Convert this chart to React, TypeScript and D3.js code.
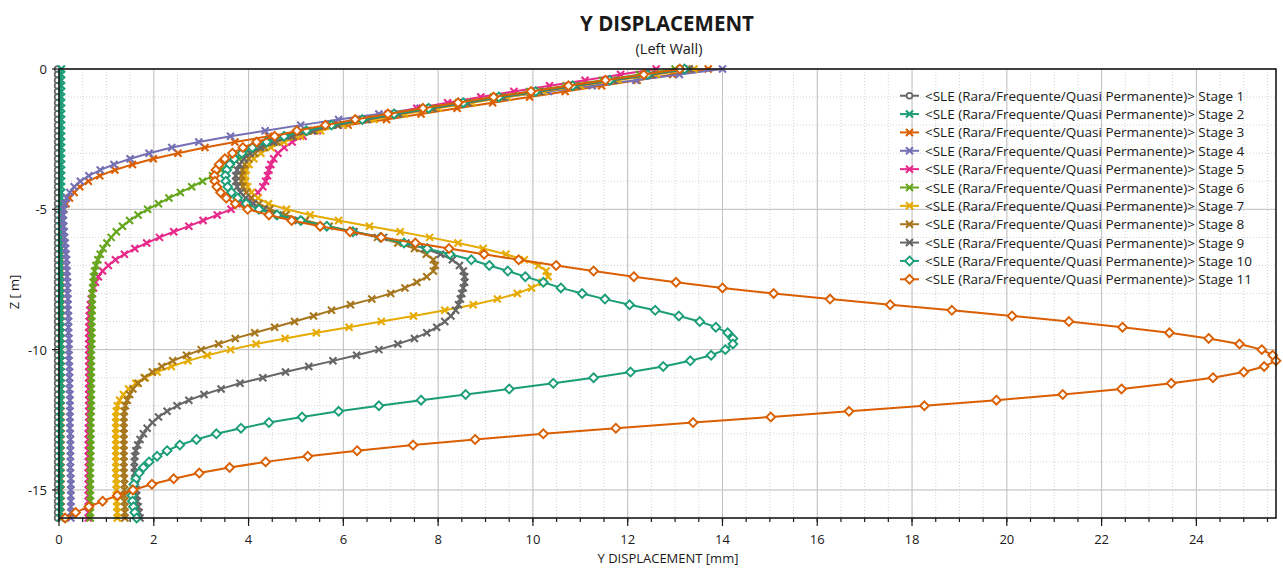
import React from 'react';
import * as d3 from 'd3';

// ---------- DATA ----------
const DEPTH = [
  0, -0.2, -0.4, -0.6, -0.8, -1, -1.2, -1.4, -1.6, -1.8,
  -2, -2.2, -2.4, -2.6, -2.8, -3, -3.2, -3.4, -3.6, -3.8,
  -4, -4.2, -4.4, -4.6, -4.8, -5, -5.2, -5.4, -5.6, -5.8,
  -6, -6.2, -6.4, -6.6, -6.8, -7, -7.2, -7.4, -7.6, -7.8,
  -8, -8.2, -8.4, -8.6, -8.8, -9, -9.2, -9.4, -9.6, -9.8,
  -10, -10.2, -10.4, -10.6, -10.8, -11, -11.2, -11.4, -11.6, -11.8,
  -12, -12.2, -12.4, -12.6, -12.8, -13, -13.2, -13.4, -13.6, -13.8,
  -14, -14.2, -14.4, -14.6, -14.8, -15, -15.2, -15.4, -15.6, -15.8,
  -16,
];

const STAGE_1 = [
  -0.03, -0.03, -0.03, -0.03, -0.03, -0.03, -0.03, -0.03, -0.03, -0.03,
  -0.03, -0.03, -0.03, -0.03, -0.03, -0.03, -0.03, -0.03, -0.03, -0.03,
  -0.03, -0.03, -0.03, -0.03, -0.03, -0.03, -0.03, -0.03, -0.03, -0.03,
  -0.03, -0.03, -0.03, -0.03, -0.03, -0.03, -0.03, -0.03, -0.03, -0.03,
  -0.03, -0.03, -0.03, -0.03, -0.03, -0.03, -0.03, -0.03, -0.03, -0.03,
  -0.03, -0.03, -0.03, -0.03, -0.03, -0.03, -0.03, -0.03, -0.03, -0.03,
  -0.03, -0.03, -0.03, -0.03, -0.03, -0.03, -0.03, -0.03, -0.03, -0.03,
  -0.03, -0.03, -0.03, -0.03, -0.03, -0.03, -0.03, -0.03, -0.03, -0.03,
  -0.03,
];

const STAGE_2 = [
  0.05, 0.05, 0.05, 0.05, 0.05, 0.05, 0.05, 0.05, 0.05, 0.05,
  0.05, 0.05, 0.05, 0.05, 0.05, 0.05, 0.05, 0.05, 0.05, 0.05,
  0.05, 0.05, 0.05, 0.05, 0.05, 0.04, 0.04, 0.04, 0.04, 0.04,
  0.04, 0.04, 0.04, 0.04, 0.04, 0.04, 0.04, 0.04, 0.04, 0.04,
  0.04, 0.04, 0.04, 0.04, 0.04, 0.04, 0.04, 0.04, 0.04, 0.04,
  0.04, 0.04, 0.04, 0.04, 0.04, 0.04, 0.04, 0.04, 0.04, 0.04,
  0.03, 0.03, 0.03, 0.03, 0.03, 0.03, 0.03, 0.03, 0.03, 0.03,
  0.03, 0.03, 0.03, 0.03, 0.03, 0.03, 0.03, 0.03, 0.03, 0.03,
  0.03,
];

const STAGE_3 = [
  13.7, 12.95, 12.2, 11.45, 10.68, 9.93, 9.15, 8.4, 7.64, 6.91,
  6.1, 5.2, 4.42, 3.71, 3.08, 2.51, 1.99, 1.55, 1.18, 0.86,
  0.62, 0.44, 0.32, 0.22, 0.15, 0.1, 0.08, 0.07, 0.06, 0.06,
  0.05, 0.05, 0.05, 0.05, 0.05, 0.05, 0.05, 0.05, 0.05, 0.05,
  0.05, 0.05, 0.05, 0.05, 0.05, 0.04, 0.04, 0.04, 0.04, 0.04,
  0.04, 0.04, 0.04, 0.04, 0.04, 0.04, 0.04, 0.04, 0.04, 0.04,
  0.04, 0.04, 0.04, 0.04, 0.04, 0.04, 0.04, 0.04, 0.04, 0.04,
  0.04, 0.04, 0.04, 0.04, 0.04, 0.04, 0.04, 0.04, 0.04, 0.04,
  0.04,
];

const STAGE_4 = [
  14.0, 13.09, 12.17, 11.25, 10.33, 9.42, 8.52, 7.62, 6.75, 5.9,
  5.1, 4.35, 3.62, 2.95, 2.38, 1.9, 1.5, 1.16, 0.87, 0.63,
  0.45, 0.32, 0.23, 0.16, 0.12, 0.1, 0.09, 0.09, 0.1, 0.11,
  0.12, 0.13, 0.14, 0.15, 0.16, 0.16, 0.17, 0.17, 0.18, 0.18,
  0.18, 0.19, 0.19, 0.19, 0.2, 0.2, 0.2, 0.2, 0.21, 0.21,
  0.21, 0.21, 0.21, 0.22, 0.22, 0.22, 0.22, 0.22, 0.23, 0.23,
  0.23, 0.23, 0.23, 0.23, 0.23, 0.24, 0.24, 0.24, 0.24, 0.24,
  0.24, 0.24, 0.24, 0.25, 0.25, 0.25, 0.25, 0.25, 0.25, 0.25,
  0.25,
];

const STAGE_5 = [
  12.6, 11.85, 11.1, 10.35, 9.6, 8.9, 8.2, 7.55, 6.95, 6.4,
  5.9, 5.45, 5.15, 4.92, 4.75, 4.62, 4.53, 4.47, 4.43, 4.4,
  4.36, 4.3, 4.2, 4.05, 3.87, 3.63, 3.34, 3.04, 2.74, 2.42,
  2.12, 1.85, 1.6, 1.38, 1.19, 1.04, 0.92, 0.83, 0.77, 0.73,
  0.7, 0.68, 0.66, 0.65, 0.64, 0.64, 0.63, 0.63, 0.63, 0.63,
  0.63, 0.63, 0.63, 0.63, 0.63, 0.63, 0.63, 0.63, 0.63, 0.63,
  0.63, 0.63, 0.63, 0.63, 0.62, 0.62, 0.62, 0.62, 0.62, 0.62,
  0.62, 0.62, 0.62, 0.62, 0.62, 0.62, 0.62, 0.62, 0.62, 0.62,
  0.62,
];

const STAGE_6 = [
  13.0, 12.25, 11.47, 10.7, 9.93, 9.17, 8.43, 7.7, 7.0, 6.35,
  5.75, 5.25, 4.85, 4.52, 4.25, 4.02, 3.8, 3.6, 3.42, 3.24,
  3.03, 2.8, 2.56, 2.32, 2.1, 1.87, 1.67, 1.49, 1.34, 1.21,
  1.1, 1.01, 0.93, 0.87, 0.82, 0.78, 0.75, 0.73, 0.72, 0.71,
  0.7, 0.7, 0.7, 0.7, 0.69, 0.69, 0.69, 0.69, 0.69, 0.69,
  0.68, 0.68, 0.68, 0.68, 0.68, 0.68, 0.68, 0.68, 0.68, 0.68,
  0.68, 0.68, 0.67, 0.67, 0.67, 0.67, 0.67, 0.67, 0.67, 0.67,
  0.66, 0.66, 0.66, 0.66, 0.66, 0.66, 0.66, 0.66, 0.66, 0.66,
  0.66,
];

const STAGE_7 = [
  13.4, 12.6, 11.8, 11.0, 10.23, 9.46, 8.72, 8.0, 7.3, 6.65,
  6.0, 5.52, 5.1, 4.75, 4.47, 4.26, 4.11, 4.01, 3.95, 3.93,
  3.94, 3.98, 4.06, 4.2, 4.42, 4.8, 5.3, 5.9, 6.55, 7.2,
  7.82, 8.42, 8.95, 9.43, 9.82, 10.12, 10.28, 10.32, 10.2, 9.97,
  9.67, 9.25, 8.74, 8.14, 7.48, 6.8, 6.12, 5.43, 4.77, 4.16,
  3.62, 3.13, 2.72, 2.37, 2.07, 1.82, 1.62, 1.47, 1.36, 1.28,
  1.23, 1.21, 1.2, 1.2, 1.2, 1.2, 1.2, 1.2, 1.2, 1.2,
  1.2, 1.2, 1.2, 1.21, 1.21, 1.21, 1.22, 1.22, 1.22, 1.23,
  1.23,
];

const STAGE_8 = [
  13.25, 12.47, 11.67, 10.88, 10.1, 9.32, 8.58, 7.85, 7.14, 6.48,
  5.88, 5.38, 4.95, 4.6, 4.33, 4.13, 4.0, 3.92, 3.87, 3.85,
  3.85, 3.88, 3.95, 4.06, 4.22, 4.45, 4.78, 5.2, 5.7, 6.22,
  6.72, 7.15, 7.5, 7.75, 7.9, 7.94, 7.9, 7.76, 7.55, 7.3,
  7.0, 6.6, 6.15, 5.75, 5.37, 4.97, 4.55, 4.13, 3.72, 3.37,
  3.0, 2.69, 2.4, 2.17, 1.97, 1.8, 1.67, 1.56, 1.49, 1.44,
  1.4, 1.38, 1.37, 1.37, 1.37, 1.37, 1.37, 1.37, 1.37, 1.37,
  1.37, 1.37, 1.37, 1.38, 1.38, 1.38, 1.38, 1.38, 1.39, 1.39,
  1.39,
];

const STAGE_9 = [
  13.3, 12.5, 11.7, 10.92, 10.14, 9.36, 8.62, 7.89, 7.17, 6.5,
  5.88, 5.35, 4.9, 4.53, 4.25, 4.04, 3.9, 3.81, 3.76, 3.73,
  3.73, 3.76, 3.83, 3.94, 4.1, 4.32, 4.62, 5.05, 5.6, 6.22,
  6.85, 7.32, 7.72, 8.05, 8.3, 8.45, 8.53, 8.56, 8.56, 8.53,
  8.5, 8.47, 8.43, 8.37, 8.27, 8.14, 7.97, 7.76, 7.5, 7.15,
  6.75, 6.28, 5.78, 5.27, 4.78, 4.3, 3.82, 3.42, 3.06, 2.74,
  2.49, 2.28, 2.1, 1.97, 1.86, 1.78, 1.71, 1.66, 1.62, 1.6,
  1.59, 1.59, 1.6, 1.61, 1.62, 1.63, 1.64, 1.65, 1.67, 1.69,
  1.71,
];

const STAGE_10 = [
  13.2, 12.42, 11.62, 10.84, 10.06, 9.28, 8.53, 7.8, 7.07, 6.4,
  5.75, 5.22, 4.75, 4.38, 4.08, 3.86, 3.7, 3.6, 3.54, 3.51,
  3.52, 3.56, 3.64, 3.77, 3.95, 4.22, 4.6, 5.1, 5.65, 6.2,
  6.78, 7.28, 7.77, 8.25, 8.7, 9.08, 9.47, 9.84, 10.22, 10.59,
  11.04, 11.52, 12.04, 12.58, 13.08, 13.52, 13.86, 14.11, 14.22, 14.22,
  14.06, 13.76, 13.32, 12.75, 12.06, 11.28, 10.43, 9.5, 8.58, 7.64,
  6.75, 5.9, 5.13, 4.43, 3.84, 3.32, 2.9, 2.55, 2.28, 2.07,
  1.9, 1.78, 1.69, 1.62, 1.58, 1.55, 1.54, 1.55, 1.57, 1.6,
  1.64,
];

const STAGE_11 = [
  13.1, 12.34, 11.53, 10.75, 9.96, 9.17, 8.42, 7.68, 6.94, 6.25,
  5.62, 5.02, 4.55, 4.17, 3.88, 3.66, 3.5, 3.38, 3.31, 3.28,
  3.29, 3.33, 3.41, 3.53, 3.72, 3.98, 4.43, 4.91, 5.51, 6.14,
  6.8, 7.52, 8.23, 8.97, 9.7, 10.49, 11.28, 12.13, 13.02, 14.0,
  15.08, 16.27, 17.54, 18.84, 20.11, 21.31, 22.44, 23.43, 24.26, 24.91,
  25.38, 25.61, 25.68, 25.43, 25.0, 24.35, 23.47, 22.42, 21.18, 19.78,
  18.26, 16.67, 15.02, 13.38, 11.75, 10.22, 8.78, 7.47, 6.29, 5.25,
  4.36, 3.6, 2.96, 2.42, 1.96, 1.56, 1.23, 0.92, 0.63, 0.35,
  0.13,
];

const STAGE_NAMES = [
  '<SLE (Rara/Frequente/Quasi Permanente)> Stage 1',
  '<SLE (Rara/Frequente/Quasi Permanente)> Stage 2',
  '<SLE (Rara/Frequente/Quasi Permanente)> Stage 3',
  '<SLE (Rara/Frequente/Quasi Permanente)> Stage 4',
  '<SLE (Rara/Frequente/Quasi Permanente)> Stage 5',
  '<SLE (Rara/Frequente/Quasi Permanente)> Stage 6',
  '<SLE (Rara/Frequente/Quasi Permanente)> Stage 7',
  '<SLE (Rara/Frequente/Quasi Permanente)> Stage 8',
  '<SLE (Rara/Frequente/Quasi Permanente)> Stage 9',
  '<SLE (Rara/Frequente/Quasi Permanente)> Stage 10',
  '<SLE (Rara/Frequente/Quasi Permanente)> Stage 11',
];

const STAGE_VALUES = [
  STAGE_1, STAGE_2, STAGE_3, STAGE_4, STAGE_5, STAGE_6,
  STAGE_7, STAGE_8, STAGE_9, STAGE_10, STAGE_11,
];

const STAGE_COLORS = [
  '#666666', '#1b9e77', '#d95f02', '#7570b3', '#e7298a', '#66a61e',
  '#e6ab02', '#a6761d', '#666666', '#1b9e77', '#d95f02',
];

const STAGE_MARKERS = [
  'circle', 'cross', 'cross', 'cross', 'cross', 'cross',
  'cross', 'cross', 'cross', 'diamond', 'diamond',
];

// painting order (stage 2 painted above stage 3, as seen in the picture)
const DRAW_ORDER = [0, 2, 1, 3, 4, 5, 6, 7, 8, 9, 10];

const X_TICKS = [0, 2, 4, 6, 8, 10, 12, 14, 16, 18, 20, 22, 24];
const Y_TICKS = [0, -5, -10, -15];

const TITLE = 'Y DISPLACEMENT';
const SUBTITLE = '(Left Wall)';
const X_LABEL = 'Y DISPLACEMENT [mm]';
const Y_LABEL = 'Z [ m]';

// ---------- LAYOUT ----------
const W = 1283;
const H = 568;
const PLOT = { left: 59, right: 1276, top: 69, bottom: 518 };
const FONT = "'Open Sans', 'Noto Sans', sans-serif";

function Marker({ type, color, x, y }: { type: string; color: string; x: number; y: number }) {
  if (type === 'circle') {
    return <circle cx={x} cy={y} r={2.9} fill="#fff" stroke={color} strokeWidth={1.7} />;
  }
  if (type === 'diamond') {
    const s = 4.4;
    return (
      <path
        d={`M${x},${y - s}L${x + s},${y}L${x},${y + s}L${x - s},${y}Z`}
        fill="#fff"
        stroke={color}
        strokeWidth={1.9}
      />
    );
  }
  const s = 3.5;
  return (
    <path
      d={`M${x - s},${y - s}L${x + s},${y + s}M${x - s},${y + s}L${x + s},${y - s}`}
      stroke={color}
      strokeWidth={2.1}
      fill="none"
    />
  );
}

export default function App() {
  const xMax = d3.max(STAGE_VALUES, (s) => d3.max(s)) as number;
  const x = d3.scaleLinear().domain([0, xMax]).range([PLOT.left, PLOT.right]);
  const y = d3.scaleLinear().domain([-16, 0]).range([PLOT.bottom, PLOT.top]);

  const minorX = d3.range(0, xMax + 1e-9, 0.5);
  const minorY = d3.range(-16, 0.0001, 1);

  const line = d3
    .line<[number, number]>()
    .x((d) => x(d[0]))
    .y((d) => y(d[1]));

  const series = STAGE_VALUES.map((vals, i) => ({
    name: STAGE_NAMES[i],
    color: STAGE_COLORS[i],
    marker: STAGE_MARKERS[i],
    pts: vals.map((v, j) => [v, DEPTH[j]] as [number, number]),
  }));

  const legendX = 900;
  const legendY = 95.7;
  const legendStep = 18.36;

  return (
    <svg
      width={W}
      height={H}
      style={{ position: 'absolute', left: 0, top: 0, background: '#fff' }}
      fontFamily={FONT}
    >
      <rect x={0} y={0} width={W} height={H} fill="#fff" />
      {/* minor grid */}
      <g stroke="#d4d4d4" strokeWidth={1} strokeDasharray="1,2">
        {minorX.map((v) => (
          <line key={'mx' + v} x1={x(v)} x2={x(v)} y1={PLOT.top} y2={PLOT.bottom} />
        ))}
        {minorY.map((v) => (
          <line key={'my' + v} x1={PLOT.left} x2={PLOT.right} y1={y(v)} y2={y(v)} />
        ))}
      </g>
      {/* major grid */}
      <g stroke="#c0c0c0" strokeWidth={1}>
        {X_TICKS.map((v) => (
          <line key={'gx' + v} x1={x(v)} x2={x(v)} y1={PLOT.top} y2={PLOT.bottom} />
        ))}
        {Y_TICKS.map((v) => (
          <line key={'gy' + v} x1={PLOT.left} x2={PLOT.right} y1={y(v)} y2={y(v)} />
        ))}
      </g>

      {/* series */}
      {DRAW_ORDER.map((k) => {
        const s = series[k];
        return (
          <g key={s.name}>
            <path d={line(s.pts) || ''} fill="none" stroke={s.color} strokeWidth={2} strokeLinejoin="round" />
            {s.pts.map((p, j) => (
              <Marker key={j} type={s.marker} color={s.color} x={x(p[0])} y={y(p[1])} />
            ))}
          </g>
        );
      })}

      {/* frame */}
      <rect
        x={PLOT.left}
        y={PLOT.top}
        width={PLOT.right - PLOT.left}
        height={PLOT.bottom - PLOT.top}
        fill="none"
        stroke="#1a1a1a"
        strokeWidth={1.6}
      />

      {/* axis ticks */}
      <g stroke="#1a1a1a" strokeWidth={1.2}>
        {minorX.map((v) => (
          <line key={'tmx' + v} x1={x(v)} x2={x(v)} y1={PLOT.bottom} y2={PLOT.bottom + 4} />
        ))}
        {X_TICKS.map((v) => (
          <line key={'tx' + v} x1={x(v)} x2={x(v)} y1={PLOT.bottom} y2={PLOT.bottom + 8} />
        ))}
        {Y_TICKS.map((v) => (
          <line key={'ty' + v} x1={PLOT.left - 7} x2={PLOT.left} y1={y(v)} y2={y(v)} />
        ))}
      </g>
      <g fontSize={13} fill="#1a1a1a">
        {X_TICKS.map((v) => (
          <text key={'lx' + v} x={x(v)} y={539} textAnchor="middle" dominantBaseline="central">
            {v}
          </text>
        ))}
        {Y_TICKS.map((v) => (
          <text key={'ly' + v} x={PLOT.left - 12} y={y(v)} textAnchor="end" dominantBaseline="central">
            {v}
          </text>
        ))}
      </g>

      {/* titles */}
      <text x={667} y={23} textAnchor="middle" dominantBaseline="central" fontSize={20.5} fontWeight="bold" fill="#1a1a1a">
        {TITLE}
      </text>
      <text x={669} y={48} textAnchor="middle" dominantBaseline="central" fontSize={14.5} fill="#1a1a1a">
        {SUBTITLE}
      </text>
      <text x={668} y={558} textAnchor="middle" dominantBaseline="central" fontSize={13} fill="#1a1a1a">
        {X_LABEL}
      </text>
      <text
        transform={`translate(14,292) rotate(-90)`}
        textAnchor="middle"
        dominantBaseline="central"
        fontSize={13}
        fill="#1a1a1a"
      >
        {Y_LABEL}
      </text>

      {/* legend */}
      {series.map((s, i) => {
        const ly = legendY + i * legendStep;
        return (
          <g key={'lg' + i}>
            <line x1={legendX} x2={legendX + 19} y1={ly} y2={ly} stroke={s.color} strokeWidth={2} />
            <Marker type={s.marker} color={s.color} x={legendX + 9.5} y={ly} />
            <text x={legendX + 25} y={ly} dominantBaseline="central" fontSize={13.5} fill="#1a1a1a">
              {s.name}
            </text>
          </g>
        );
      })}
    </svg>
  );
}
